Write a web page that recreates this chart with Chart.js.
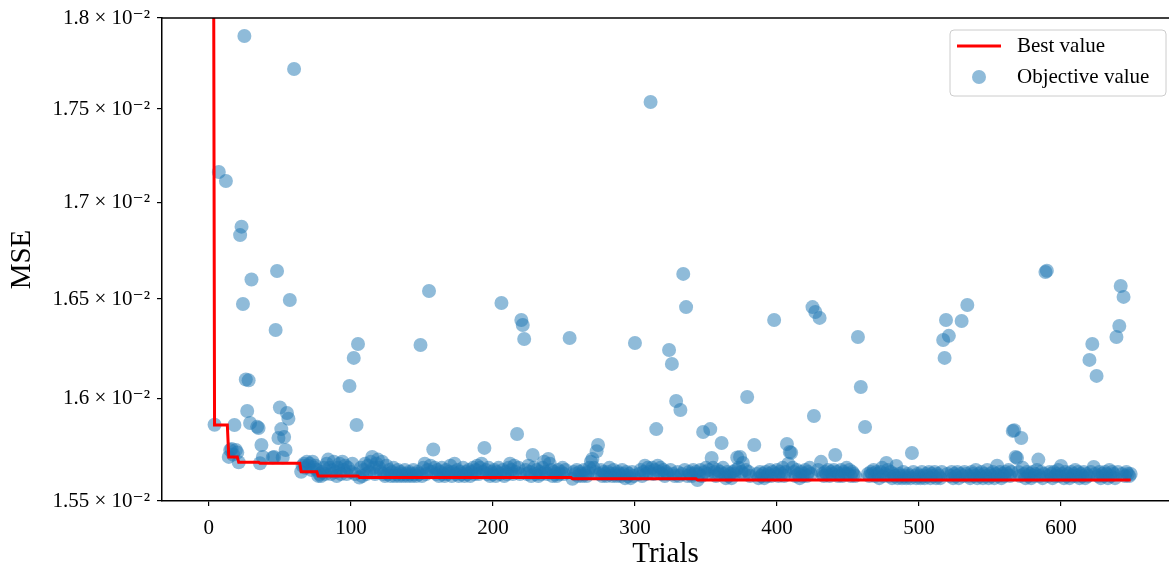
<!DOCTYPE html>
<html>
<head>
<meta charset="utf-8">
<script src="https://cdn.jsdelivr.net/npm/chart.js@4.4.1/dist/chart.umd.min.js"></script>
<style>
  html, body { margin: 0; padding: 0; background: #fff; }
  #wrap { width: 1169px; height: 569px; }
</style>
</head>
<body>
<div id="wrap"><canvas id="chart" width="1169" height="569"></canvas></div>
<script>
// objective value per trial (index = trial number), null = not shown / off the chart
const mse = [
  0.0312, 0.0247, 0.0221, 0.0198, 0.01587, null, null, 0.017162, null, null,
  null, null, 0.017114, null, 0.015713, 0.015747, 0.015752, 0.015725, 0.015869, 0.015747,
  0.015734, 0.015687, 0.01683, 0.016874, 0.016475, 0.0179, 0.016094, 0.015938, 0.01609, 0.015879,
  0.0166, null, null, null, 0.01586, 0.015854, 0.015682, 0.015771, 0.015713, null,
  null, null, null, null, null, 0.01571, 0.015713, 0.016343, 0.016644, 0.015805,
  0.015955, 0.015849, 0.01571, 0.01581, 0.015747, 0.015928, 0.0159, 0.016495, null, null,
  0.017718, null, null, null, null, 0.015641, 0.01567, 0.01568, 0.01566, 0.01569,
  0.01567, 0.01568, 0.01565, 0.01569, 0.01566, 0.01567, 0.01565, 0.015621, 0.01563, 0.01562,
  0.01564, 0.01566, 0.01563, 0.01568, 0.0157, 0.01566, 0.01563, 0.01565, 0.01569, 0.01564,
  0.01562, 0.01566, 0.01568, 0.01563, 0.01569, 0.01565, 0.01567, 0.01563, 0.01566, 0.016062,
  0.01564, 0.01568, 0.016202, 0.01563, 0.015869, 0.016272, 0.015613, 0.01566, 0.01562, 0.01565,
  0.01568, 0.01563, 0.01567, 0.01564, 0.01569, 0.015713, 0.01566, 0.01563, 0.01568, 0.0157,
  0.01566, 0.01564, 0.01569, 0.01563, 0.01562, 0.01567, 0.01563, 0.01565, 0.01562, 0.01564,
  0.01566, 0.01562, 0.01563, 0.01565, 0.01562, 0.01564, 0.01563, 0.01562, 0.01565, 0.01563,
  0.01562, 0.01564, 0.01563, 0.01562, 0.01565, 0.01563, 0.01562, 0.01564, 0.01563, 0.016267,
  0.01562, 0.01566, 0.01568, 0.01563, 0.01565, 0.016541, 0.01567, 0.01564, 0.015749, 0.01566,
  0.01563, 0.01565, 0.01562, 0.01564, 0.01566, 0.01563, 0.01562, 0.01565, 0.01563, 0.01564,
  0.01567, 0.01562, 0.01564, 0.01568, 0.01563, 0.01565, 0.01562, 0.01564, 0.01563, 0.01566,
  0.01562, 0.01564, 0.01563, 0.01565, 0.01562, 0.01564, 0.01566, 0.01563, 0.01565, 0.01567,
  0.01563, 0.01566, 0.01568, 0.01564, 0.015757, 0.01565, 0.01563, 0.01566, 0.01562, 0.01564,
  0.01563, 0.01565, 0.01562, 0.01564, 0.01566, 0.01563, 0.01648, 0.01565, 0.01562, 0.01564,
  0.01563, 0.01566, 0.01568, 0.01565, 0.01563, 0.01567, 0.01564, 0.015825, 0.01566, 0.01563,
  0.016393, 0.016368, 0.016297, 0.01565, 0.01563, 0.01567, 0.01564, 0.01562, 0.015722, 0.01566,
  0.01563, 0.01565, 0.01562, 0.01564, 0.01563, 0.01566, 0.01569, 0.01564, 0.01563, 0.015703,
  0.01568, 0.01565, 0.01562, 0.01564, 0.01563, 0.01562, 0.01565, 0.01563, 0.01564, 0.01566,
  0.01563, 0.01565, null, null, 0.016302, null, 0.015607, 0.01564, 0.01563, 0.01565,
  0.01562, 0.01564, 0.01563, 0.01562, 0.01565, 0.01563, 0.01562, 0.01564, 0.01566, 0.01569,
  0.015703, 0.01566, 0.01564, 0.01574, 0.015771, 0.01563, 0.01565, 0.01562, 0.01564, 0.01563,
  0.01562, 0.01564, 0.01566, 0.01563, 0.01562, 0.01565, 0.01563, 0.01562, 0.01564, 0.01563,
  0.01562, 0.01565, 0.01563, 0.01561, 0.01564, 0.01562, 0.01563, 0.01561, 0.01564, 0.01562,
  0.016277, null, null, 0.01563, 0.01565, 0.01562, 0.01564, 0.01567, 0.01563, 0.01566,
  0.01564, 0.017538, 0.01566, 0.01563, 0.01565, 0.015849, 0.01567, 0.01564, 0.01566, 0.01563,
  0.01565, 0.01562, 0.01564, 0.01563, 0.016242, 0.01565, 0.016172, 0.01563, 0.01562, 0.015987,
  0.01564, 0.01562, 0.015943, 0.01563, 0.016629, 0.01565, 0.016459, 0.01562, 0.01564, 0.01563,
  0.01562, 0.01565, 0.01563, 0.01564, 0.015601, 0.01563, 0.01565, 0.01562, 0.015835, 0.01564,
  0.01566, 0.01563, 0.01565, 0.015849, 0.015708, 0.01566, 0.01564, 0.01562, 0.01565, 0.01563,
  0.01564, 0.015781, 0.01566, 0.01563, 0.01561, 0.01564, 0.01562, 0.01563, 0.01561, 0.01564,
  0.01563, 0.01565, 0.01571, 0.01566, 0.015713, 0.01564, 0.015684, 0.01563, 0.01565, 0.016007,
  0.01564, 0.01562, null, null, 0.015771, null, 0.01563, 0.01561, 0.01564, 0.01562,
  0.01563, 0.01561, 0.01564, 0.01562, 0.01563, 0.01565, 0.01562, 0.01564, 0.016393, 0.01563,
  0.01565, 0.01562, 0.01564, 0.01563, 0.01566, 0.01562, 0.01564, 0.015776, 0.01568, 0.015737,
  0.015733, 0.01566, 0.01564, 0.01562, 0.01565, 0.01563, 0.01561, 0.01564, 0.01562, 0.01563,
  0.01565, 0.01562, 0.01564, 0.01566, 0.01563, 0.016459, 0.015913, 0.016434, null, 0.01565,
  0.016404, 0.015689, 0.01563, 0.01562, 0.01564, 0.01563, 0.01565, 0.01562, 0.01564, 0.01563,
  0.01565, 0.015722, 0.01564, 0.01562, 0.01563, 0.01565, 0.01562, 0.01564, 0.01563, 0.01566,
  0.01563, 0.01565, 0.01562, 0.01564, 0.01563, 0.01562, null, 0.016307, null, 0.016057,
  null, null, 0.015859, null, 0.01563, 0.01562, 0.01564, 0.01563, 0.01565, 0.01562,
  0.01564, 0.01563, 0.01561, 0.01564, 0.01566, 0.01562, 0.01563, 0.015684, 0.01565, 0.01562,
  0.01564, 0.01561, 0.01563, 0.01562, 0.015669, 0.01561, 0.01563, 0.01562, 0.01561, 0.01564,
  0.01562, 0.01561, 0.01563, 0.01562, 0.01561, 0.015732, 0.01564, 0.01562, 0.01561, 0.01563,
  0.01562, 0.01561, 0.01564, 0.01562, 0.01561, 0.01563, 0.01562, 0.01564, 0.01561, 0.01563,
  0.01562, 0.01564, 0.01561, 0.01563, 0.01562, 0.01561, 0.01564, 0.016292, 0.016202, 0.016393,
  0.01563, 0.016313, 0.01562, 0.01564, 0.01561, 0.01563, 0.01562, 0.01564, 0.01561, 0.01563,
  0.016388, 0.01562, 0.01564, 0.01563, 0.01647, 0.01562, 0.01561, 0.01564, 0.01563, 0.01562,
  0.01565, 0.01561, 0.01563, 0.01562, 0.01564, 0.01561, 0.01563, 0.01562, 0.01565, 0.01561,
  0.01563, 0.01562, 0.01564, 0.01561, 0.01563, 0.01567, 0.01562, 0.01564, 0.01561, 0.01563,
  0.01562, 0.01564, 0.01563, 0.01565, 0.01562, 0.01564, 0.01584, 0.015843, 0.015713, 0.015708,
  0.01564, 0.01562, 0.015805, 0.01566, 0.01563, 0.01561, 0.01564, 0.01562, 0.01563, 0.01561,
  0.01564, 0.01562, 0.01563, 0.01565, 0.0157, 0.01562, 0.01564, 0.01561, 0.01563, 0.016639,
  0.016645, 0.01562, 0.01564, 0.01563, 0.01561, 0.01564, 0.01562, 0.01563, 0.01565, 0.01562,
  0.015669, 0.01563, 0.01561, 0.01564, 0.01562, 0.01563, 0.01561, 0.01564, 0.01562, 0.01563,
  0.01565, 0.01562, 0.01564, 0.01561, 0.01563, 0.01562, 0.01564, 0.01561, 0.01563, 0.01562,
  0.016192, 0.01564, 0.016272, 0.015664, 0.01563, 0.016112, 0.01562, 0.01564, 0.01561, 0.01563,
  0.01562, 0.01564, 0.01563, 0.01561, 0.01565, 0.01562, 0.01564, 0.01563, 0.01561, 0.016307,
  0.01564, 0.016363, 0.016567, 0.01563, 0.016511, 0.01562, 0.01564, 0.01563, 0.01562, 0.01563
];

// best value so far: corner points of the red line
const bestTrials = [0, 1, 2, 3, 4, 13, 14, 20, 21, 35, 36, 64, 65, 76, 77, 105, 106, 255, 256, 343, 344, 649];
const bestValues = [0.0312, 0.0247, 0.0221, 0.0198, 0.015869, 0.015869, 0.015713, 0.015713,
  0.015687, 0.015687, 0.015682, 0.015682, 0.015641, 0.015641, 0.015621, 0.015621,
  0.015613, 0.015613, 0.015607, 0.015607, 0.015601, 0.015601];

const xTicks = [0, 100, 200, 300, 400, 500, 600];
const yTicks = [0.0155, 0.016, 0.0165, 0.017, 0.0175, 0.018];
const yTickLabels = ['1.55 × 10⁻²', '1.6 × 10⁻²', '1.65 × 10⁻²', '1.7 × 10⁻²', '1.75 × 10⁻²', '1.8 × 10⁻²'];

const FONT = "'Liberation Serif', 'DejaVu Serif', serif";
const BLUE = 'rgba(31, 119, 180, 0.5)';
const RED = '#ff0000';

const scatterPts = [];
mse.forEach((v, i) => { if (v !== null) scatterPts.push({ x: i, y: v }); });
const bestPts = bestTrials.map((t, i) => ({ x: t, y: bestValues[i] }));

// top spine + legend box
const frameAndLegend = {
  id: 'frameAndLegend',
  afterDraw(chart) {
    const { ctx, chartArea } = chart;
    ctx.save();
    ctx.strokeStyle = '#000';
    ctx.lineWidth = 1.5;
    ctx.beginPath();
    ctx.moveTo(chartArea.left, chartArea.top);
    ctx.lineTo(chartArea.right, chartArea.top);
    ctx.stroke();

    const bx = chartArea.right - 219, by = chartArea.top + 12, bw = 216, bh = 66;
    ctx.beginPath();
    ctx.roundRect(bx, by, bw, bh, 4);
    ctx.fillStyle = 'rgba(255,255,255,0.8)';
    ctx.fill();
    ctx.strokeStyle = '#cccccc';
    ctx.lineWidth = 1;
    ctx.stroke();

    ctx.strokeStyle = RED;
    ctx.lineWidth = 3;
    ctx.beginPath();
    ctx.moveTo(bx + 7, by + 16);
    ctx.lineTo(bx + 51, by + 16);
    ctx.stroke();

    ctx.fillStyle = BLUE;
    ctx.beginPath();
    ctx.arc(bx + 29, by + 47, 7, 0, Math.PI * 2);
    ctx.fill();

    ctx.fillStyle = '#000';
    ctx.font = '21px ' + FONT;
    ctx.textBaseline = 'middle';
    ctx.textAlign = 'left';
    ctx.fillText('Best value', bx + 67, by + 16);
    ctx.fillText('Objective value', bx + 67, by + 47);
    ctx.restore();
  }
};

new Chart(document.getElementById('chart'), {
  type: 'scatter',
  data: {
    datasets: [
      {
        label: 'Best value',
        data: bestPts,
        showLine: true,
        borderColor: RED,
        borderWidth: 3,
        pointRadius: 0,
        tension: 0,
        order: 0
      },
      {
        label: 'Objective value',
        data: scatterPts,
        backgroundColor: BLUE,
        borderWidth: 0,
        pointRadius: 7,
        order: 1
      }
    ]
  },
  options: {
    responsive: false,
    animation: false,
    layout: { autoPadding: false, padding: { top: 18, left: 0, right: 0, bottom: 0 } },
    plugins: { legend: { display: false }, tooltip: { enabled: false } },
    scales: {
      x: {
        type: 'linear',
        min: -33,
        max: 676,
        afterBuildTicks: s => { s.ticks = xTicks.map(v => ({ value: v })); },
        afterFit: s => { s.height = 68; s.paddingLeft = 0; s.paddingRight = 0; },
        grid: { drawOnChartArea: false, drawTicks: true, tickLength: 5, color: '#000', lineWidth: 1.2 },
        border: { display: true, color: '#000', width: 1.5 },
        ticks: { color: '#000', font: { family: FONT, size: 21 }, padding: 10, maxRotation: 0 },
        title: { display: true, text: 'Trials', color: '#000', font: { family: FONT, size: 29, lineHeight: 1 }, padding: { top: 0, bottom: 0 } }
      },
      y: {
        type: 'logarithmic',
        min: 0.0155,
        max: 0.018,
        afterBuildTicks: s => { s.ticks = yTicks.map(v => ({ value: v })); },
        afterFit: s => { s.width = 162; s.paddingTop = 0; s.paddingBottom = 0; },
        grid: { drawOnChartArea: false, drawTicks: true, tickLength: 5, color: '#000', lineWidth: 1.2 },
        border: { display: true, color: '#000', width: 1.5 },
        ticks: {
          color: '#000',
          font: { family: FONT, size: 21 },
          padding: 7,
          autoSkip: false,
          callback: (v, i) => yTickLabels[i]
        },
        title: { display: true, text: 'MSE', color: '#000', font: { family: FONT, size: 29 }, padding: { top: 5, bottom: 0 } }
      }
    }
  },
  plugins: [frameAndLegend]
});
</script>
</body>
</html>
